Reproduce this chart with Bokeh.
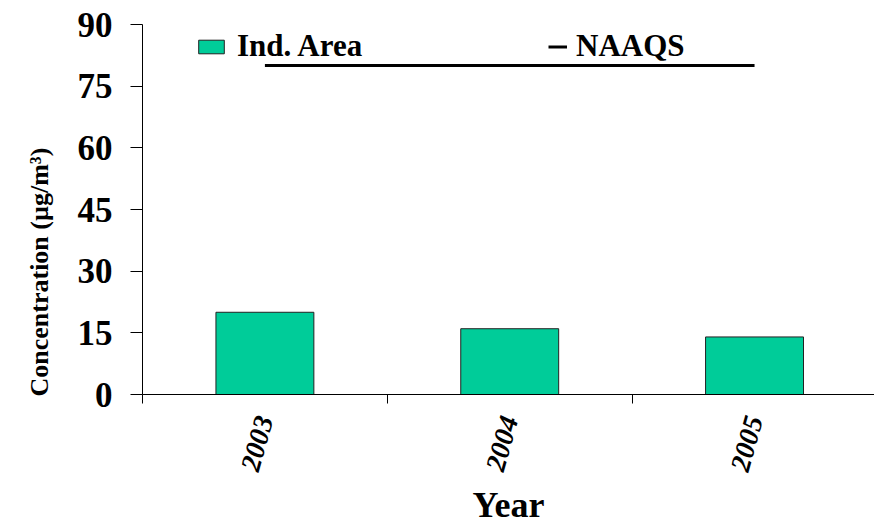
from bokeh.plotting import figure
from bokeh.models import (Range1d, LinearAxis, FixedTicker, Legend, LegendItem, Title)
from bokeh.embed import file_html
from bokeh.resources import INLINE

# ---- data ----
years = ["2003", "2004", "2005"]
ind_area = [20, 16, 14]
naaqs = [80, 80, 80]
y_ticks = [0, 15, 30, 45, 60, 75, 90]

FONT = "Liberation Serif"
GREEN = "#00CC99"

centers = [i + 0.5 for i in range(len(years))]
bounds = list(range(len(years) + 1))

p = figure(width=874, height=528, output_backend="svg", toolbar_location=None,
           x_range=Range1d(0, 2.99), y_range=Range1d(0, 90),
           x_axis_type=None, y_axis_type=None,
           min_border_left=142, min_border_right=0, min_border_top=24,
           min_border_bottom=133)
p.outline_line_color = None
p.background_fill_color = "white"
p.border_fill_color = "white"

# y axis
yax = LinearAxis(ticker=FixedTicker(ticks=y_ticks, minor_ticks=[]))
yax.major_label_text_font = FONT
yax.major_label_text_font_style = "bold"
yax.major_label_text_font_size = "35px"
yax.major_label_text_color = "black"
yax.major_label_standoff = 18
yax.major_tick_out = 12
yax.major_tick_in = 0
yax.axis_line_color = "black"
yax.major_tick_line_color = "black"
p.add_layout(yax, "left")

ytitle = Title(text="Concentration (µg/m³)", align="left", offset=-2,
               standoff=42, text_font=FONT, text_font_style="bold",
               text_font_size="26px", text_color="black")
p.add_layout(ytitle, "left")

# x axis: labels at centers, ticks at category boundaries (minor ticks)
xax = LinearAxis(ticker=FixedTicker(ticks=centers, minor_ticks=bounds))
xax.major_label_overrides = {c: y for c, y in zip(centers, years)}
xax.major_tick_out = 0
xax.major_tick_in = 0
xax.minor_tick_out = 9
xax.minor_tick_in = 0
xax.minor_tick_line_color = "black"
xax.axis_line_color = "black"
xax.major_label_text_font = FONT
xax.major_label_text_font_style = "bold italic"
xax.major_label_text_font_size = "28px"
xax.major_label_text_color = "black"
xax.major_label_orientation = 1.3
xax.major_label_standoff = 13
xax.axis_label = "Year"
xax.axis_label_text_font = FONT
xax.axis_label_text_font_style = "bold"
xax.axis_label_text_font_size = "36px"
xax.axis_label_text_color = "black"
xax.axis_label_standoff = 7
p.add_layout(xax, "below")

bars = p.vbar(x=centers, top=ind_area, width=0.4, fill_color=GREEN,
              line_color="#222222", line_width=1)
ln = p.line(x=centers, y=naaqs, line_color="black", line_width=3)

leg1 = Legend(items=[LegendItem(label="Ind. Area", renderers=[bars])],
              location=(53, 330), orientation="horizontal",
              glyph_width=32, glyph_height=17, label_standoff=10,
              padding=0, margin=0, spacing=0,
              border_line_color=None, background_fill_alpha=0,
              label_text_font=FONT, label_text_font_style="bold",
              label_text_color="black",
              label_text_font_size="31px")
leg2 = Legend(items=[LegendItem(label="NAAQS", renderers=[ln])],
              location=(406, 330), orientation="horizontal",
              glyph_width=19, glyph_height=17, label_standoff=9,
              padding=0, margin=0, spacing=0,
              border_line_color=None, background_fill_alpha=0,
              label_text_font=FONT, label_text_font_style="bold",
              label_text_color="black",
              label_text_font_size="31px")
p.add_layout(leg1, "center")
p.add_layout(leg2, "center")

open("out.html", "w").write(file_html(p, INLINE))
